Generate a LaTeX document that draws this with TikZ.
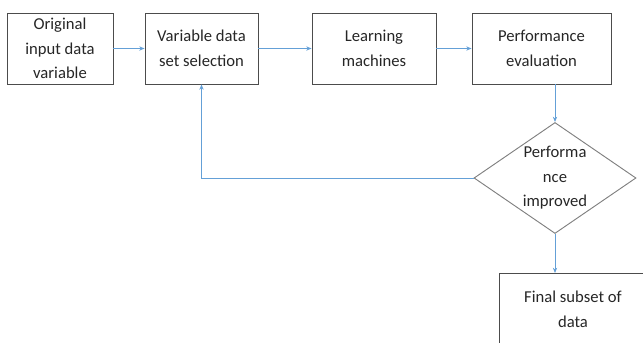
\documentclass[tikz,border=0pt]{standalone}
\usepackage{fontspec}
\setmainfont{Carlito}
\usetikzlibrary{positioning,calc,shapes.geometric,arrows.meta}
\definecolor{colorFLOW}{RGB}{100,160,215}
\colorlet{colorBOX}{black!70}
\colorlet{colorDEC}{black!50}
\colorlet{colorTXT}{black!85}
\tikzset{
   every path/.style={>={Stealth[length=1.6mm,width=1.3mm]}},
   blk/.style={draw=colorBOX,line width=0.8pt,rectangle,align=center,inner sep=0pt,
      minimum height=21.3mm,text=colorTXT,font=\fontsize{14.2}{21}\selectfont},
   dec/.style={draw=colorDEC,line width=0.8pt,diamond,aspect=1.46,align=center,inner sep=0pt,
      minimum width=48.6mm,minimum height=33.3mm,text=colorTXT,font=\fontsize{14.2}{21}\selectfont},
   flow/.style={->,draw=colorFLOW,line width=0.8pt},
}

\begin{document}
\begin{tikzpicture}[x=0.3mm, y=-0.3mm]
    \clip (0,0) rectangle (643,343);

    \node[blk,minimum width=31.8mm] (orig)   at (60,48.5)  {Original\\input data\\variable};
    \node[blk,minimum width=33.9mm] (varsel) at (201.5,48.5) {Variable data\\set selection};
    \node[blk,minimum width=37.2mm] (learn)  at (374,48.5) {Learning\\machines};
    \node[blk,minimum width=41.7mm] (perf)   at (541.5,48.5) {Performance\\evaluation};

    \node[dec] (impr) at (555,178) {Performa\\nce\\improved};

    \node[blk,minimum width=44.4mm] (final) at (573,309) {Final subset of\\data};

    \draw[flow] (orig) -- (varsel);
    \draw[flow] (varsel) -- (learn);
    \draw[flow] (learn) -- (perf);
    \draw[flow] (perf.south -| impr.north) -- (impr.north);
    \draw[flow] (impr.west) -| (varsel.south);
    \draw[flow] (impr.south) -- (impr.south |- final.north);

\end{tikzpicture}
\end{document}
